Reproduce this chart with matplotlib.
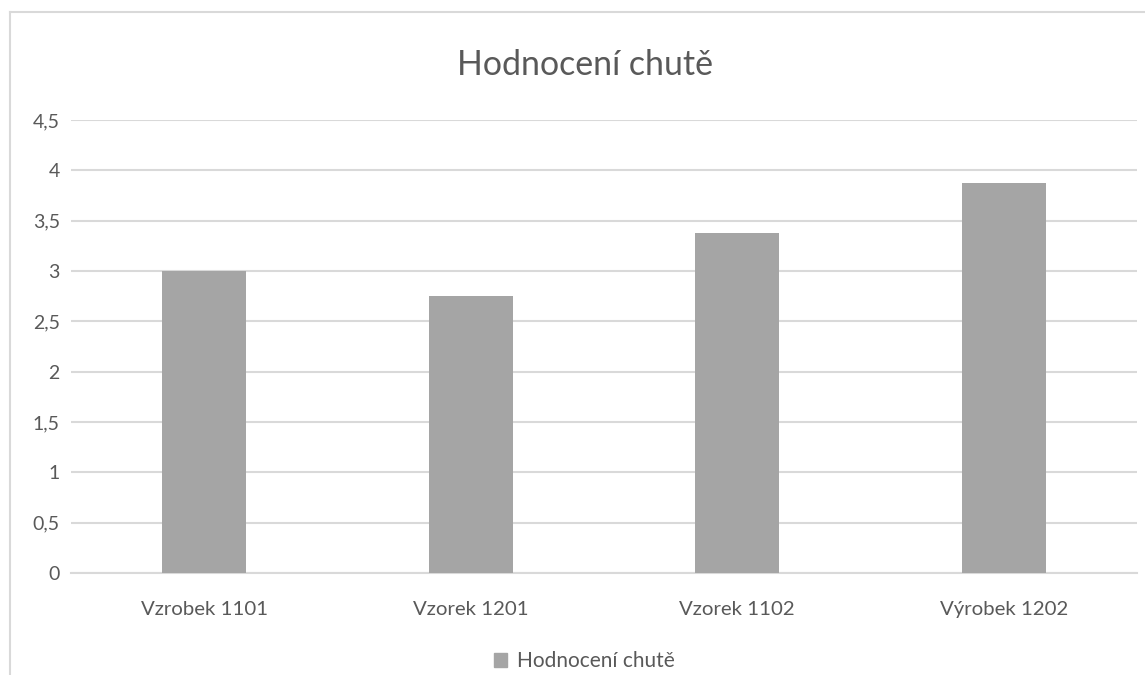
import matplotlib.pyplot as plt
from matplotlib.patches import Rectangle
from matplotlib.lines import Line2D

# data
kategorie = ["Vzrobek 1101", "Vzorek 1201", "Vzorek 1102", "Výrobek 1202"]
hodnoty = [3.0, 2.75, 3.375, 3.875]
nazev_serie = "Hodnocení chutě"
titulek = "Hodnocení chutě"
y_ticky = [0, 0.5, 1, 1.5, 2, 2.5, 3, 3.5, 4, 4.5]

plt.rcParams['font.family'] = ['Lato', 'DejaVu Sans']
barva_textu = "#595959"
barva_mrizky = "#D9D9D9"
barva_sloupcu = "#A5A5A5"

fig = plt.figure(figsize=(11.45, 6.75), dpi=100)
fig.patch.set_facecolor("white")

# okraj grafu (oříznutý)
fig.add_artist(Line2D([10 / 1145, 10 / 1145], [0, 1 - 12 / 675],
                      transform=fig.transFigure, color=barva_mrizky, lw=1.5))
fig.add_artist(Line2D([10 / 1145, 1], [1 - 12 / 675, 1 - 12 / 675],
                      transform=fig.transFigure, color=barva_mrizky, lw=1.5))

ax = fig.add_axes([71 / 1145, 1 - 573 / 675, (1137 - 71) / 1145, (573 - 120) / 675])
x = range(len(kategorie))
ax.bar(x, hodnoty, width=0.315, color=barva_sloupcu, zorder=3, label=nazev_serie)

ax.set_xlim(-0.5, len(kategorie) - 0.5)
ax.set_ylim(0, 4.5)
ax.set_yticks(y_ticky)
ax.set_yticklabels([("%g" % v).replace(".", ",") for v in y_ticky])
ax.set_xticks(list(x))
ax.set_xticklabels(kategorie)

ax.yaxis.grid(True, color=barva_mrizky, lw=1.5, zorder=0)
ax.set_axisbelow(True)
for s in ["top", "right", "left"]:
    ax.spines[s].set_visible(False)
ax.spines["bottom"].set_color(barva_mrizky)
ax.spines["bottom"].set_linewidth(1.5)

ax.tick_params(axis="y", length=0, pad=8, labelsize=14, labelcolor=barva_textu)
ax.tick_params(axis="x", length=0, pad=20, labelsize=14.7, labelcolor=barva_textu)

fig.text(585 / 1145, 1 - 65 / 675, titulek, ha="center", va="center",
         fontsize=24.4, color=barva_textu)

fig.legend(handles=[Rectangle((0, 0), 1, 1, color=barva_sloupcu)],
           labels=[nazev_serie], loc="center", bbox_to_anchor=(584 / 1145, 1 - 661 / 675),
           frameon=False, fontsize=15, labelcolor=barva_textu,
           handlelength=0.65, handleheight=0.65, handletextpad=0.45)

fig.savefig("out.png", dpi=100)
